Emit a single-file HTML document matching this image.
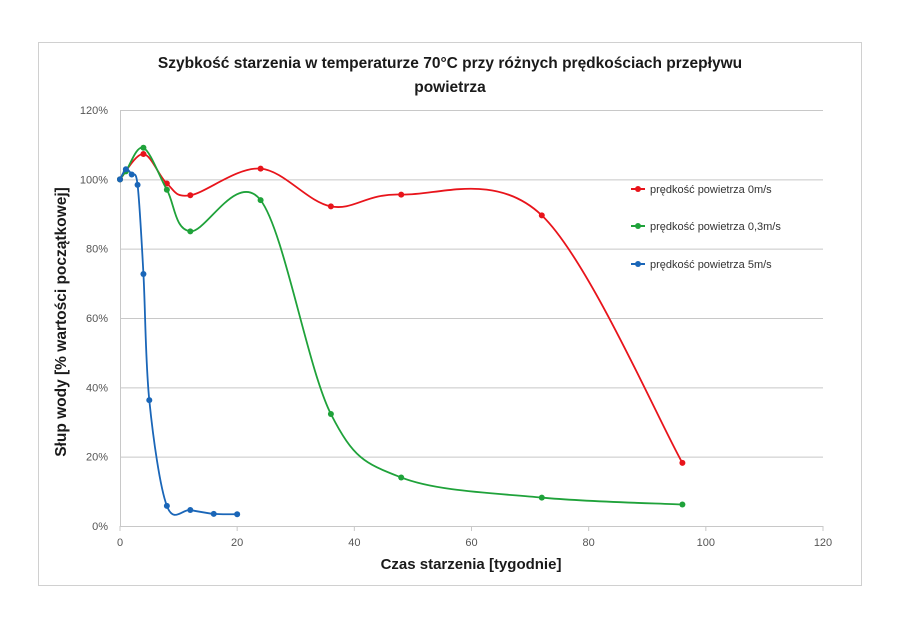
<!DOCTYPE html>
<html><head><meta charset="utf-8"><style>
body{margin:0;background:#fff;}
svg{display:block;font-family:"Liberation Sans",sans-serif;}
</style></head><body>
<svg id="s" width="900" height="636" viewBox="0 0 900 636">
<rect x="38.5" y="42.5" width="823" height="543" fill="#fff" stroke="#d0d0d0"/>
<text x="450" y="68" text-anchor="middle" font-size="15.5" font-weight="bold" fill="#1a1a1a">Szybkość starzenia w temperaturze 70°C przy różnych prędkościach przepływu</text>
<text x="450" y="92" text-anchor="middle" font-size="15.5" font-weight="bold" fill="#1a1a1a">powietrza</text>
<g id="grid" stroke="#c8c8c8" stroke-width="1"></g>
<g id="lab" font-size="11" fill="#555"></g>
<text x="471" y="569" text-anchor="middle" font-size="15" font-weight="bold" fill="#1a1a1a">Czas starzenia [tygodnie]</text>
<text transform="translate(66,322) rotate(-90)" text-anchor="middle" font-size="15.5" font-weight="bold" fill="#1a1a1a">Słup wody [% wartości początkowej]</text>
<g id="ser"></g>
<g font-size="11" fill="#333">
<line x1="631" y1="189" x2="645" y2="189" stroke="#e8141b" stroke-width="2"/><circle cx="638" cy="189" r="3" fill="#e8141b"/>
<text x="650" y="193">prędkość powietrza  0m/s</text>
<line x1="631" y1="226" x2="645" y2="226" stroke="#1fa23a" stroke-width="2"/><circle cx="638" cy="226" r="3" fill="#1fa23a"/>
<text x="650" y="230">prędkość powietrza  0,3m/s</text>
<line x1="631" y1="264" x2="645" y2="264" stroke="#1a66b8" stroke-width="2"/><circle cx="638" cy="264" r="3" fill="#1a66b8"/>
<text x="650" y="268">prędkość powietrza  5m/s</text>
</g>
</svg>
<script>
const NS="http://www.w3.org/2000/svg";
function el(t,a,p){const e=document.createElementNS(NS,t);for(const k in a)e.setAttribute(k,a[k]);document.getElementById(p).appendChild(e);return e;}
const X=v=>120+v*703/120, Y=v=>526-v*416/120;
for(let i=0;i<=6;i++){const y=Y(i*20);el('line',{x1:120,x2:823,y1:y+0.5,y2:y+0.5},'grid');
 const t=el('text',{x:108,y:y+4,'text-anchor':'end'},'lab');t.textContent=(i*20)+'%';}
el('line',{x1:120.5,x2:120.5,y1:110,y2:526},'grid');
for(let i=0;i<=6;i++){const x=X(i*20);el('line',{x1:x,x2:x,y1:526,y2:531},'grid');
 const t=el('text',{x:x,y:546,'text-anchor':'middle'},'lab');t.textContent=i*20;}
const S=[
 ['#e8141b',[[0,100],[4,107.3],[8,98.8],[12,95.4],[24,103.1],[36,92.2],[48,95.6],[72,89.6],[96,18.2]]],
 ['#1fa23a',[[0,100],[1,102.3],[4,109.1],[8,97],[12,85],[24,94],[36,32.3],[48,14],[72,8.2],[96,6.2]]],
 ['#1a66b8',[[0,100],[1,102.9],[2,101.4],[3,98.4],[4,72.7],[5,36.3],[8,5.8],[12,4.6],[16,3.5],[20,3.4]]]];
for(const [c,d] of S){const p=d.map(q=>[X(q[0]),Y(q[1])]);let s='M'+p[0];
 for(let i=0;i<p.length-1;i++){const a=p[i-1]||p[i],b=p[i],n=p[i+1],m=p[i+2]||n;
  const c1=[b[0]+(n[0]-a[0])/6,b[1]+(n[1]-a[1])/6],c2=[n[0]-(m[0]-b[0])/6,n[1]-(m[1]-b[1])/6];
  s+=' C'+c1+' '+c2+' '+n;}
 el('path',{d:s,fill:'none',stroke:c,'stroke-width':1.8},'ser');
 for(const q of p)el('circle',{cx:q[0],cy:q[1],r:3,fill:c},'ser');}
</script>
</body></html>
